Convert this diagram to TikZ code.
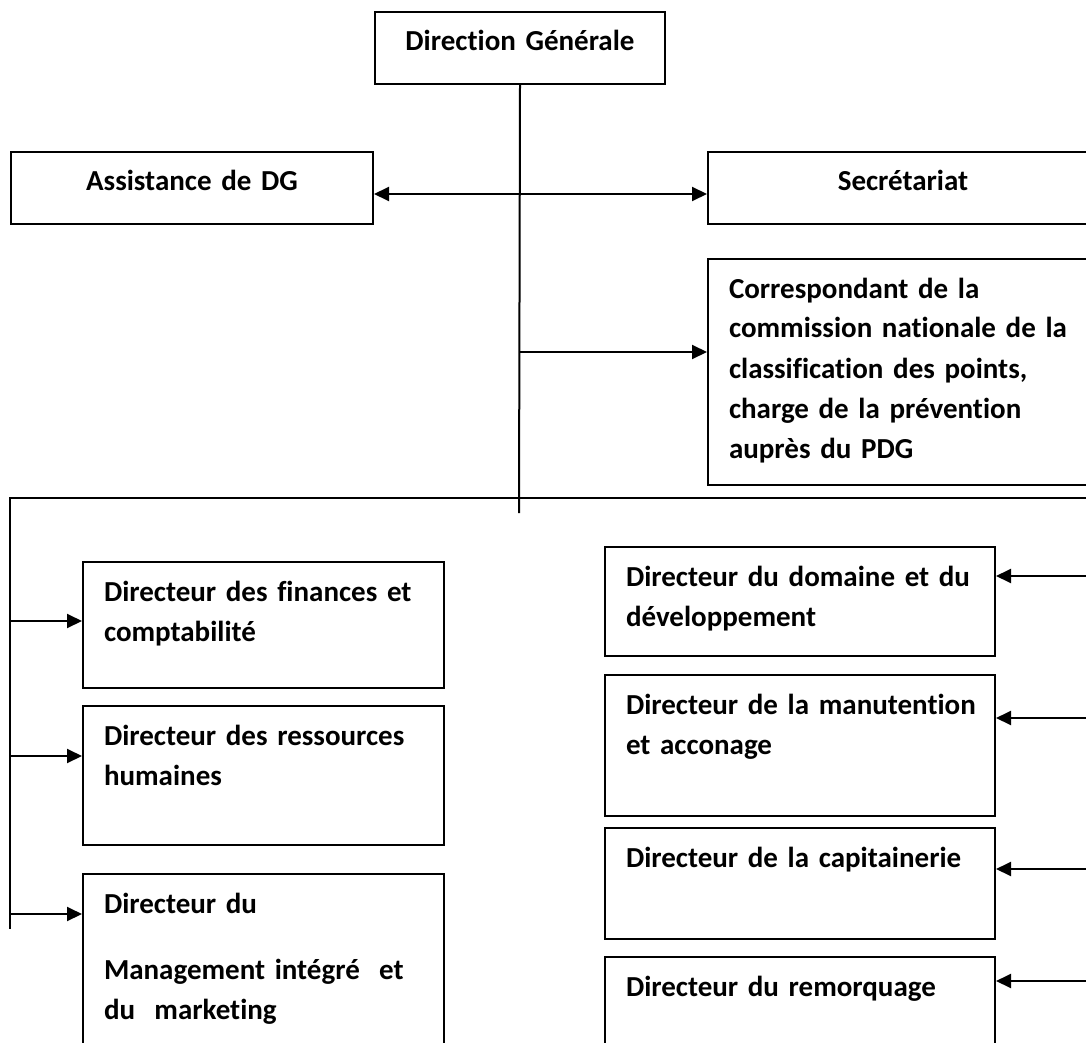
\documentclass[tikz,border=0pt]{standalone}
\usepackage{fontspec}
\setmainfont{Carlito}[Ligatures=NoCommon,WordSpace=0.7]
\usepackage{tikz}
\usetikzlibrary{arrows.meta,positioning}
\tikzstyle{boite}=[rectangle,draw=black,line width=1pt,anchor=north west,inner xsep=10.5pt,inner ysep=0pt,align=left,text height=19.5pt,font=\bfseries\fontsize{14.5}{20}\selectfont]
\tikzstyle{lien}=[->,>={Triangle[length=7.5pt,width=7pt]},line width=1pt]
\tikzstyle{trait}=[line width=1pt]

\begin{document}
\begin{tikzpicture}[x=0.5pt,y=-0.5pt]

    \useasboundingbox (0,0) rectangle (1086,1043);
    \clip (0,0) rectangle (1086,1043);

    % Boîtes
    \node[boite, align=center, text width=124pt, text depth=16.5pt] (dg) at (374,11) {Direction Générale};
    \node[boite, align=center, text width=160pt, text depth=16.5pt] (assist) at (10,151) {Assistance de DG};
    \node[boite, align=center, text width=174pt, text depth=16.5pt] (secr) at (707,151) {Secrétariat};
    \node[boite, text width=174pt, text depth=93.5pt] (corr) [below=16.5pt of secr.south west, anchor=north west] {Correspondant de la\\ commission nationale de la\\ classification des points,\\ charge de la prévention\\ auprès du PDG};

    \node[boite, text width=159.5pt, text depth=43.5pt] (fin) at (82,561) {Directeur des finances et\\ comptabilité};
    \node[boite, text width=159.5pt, text depth=50pt] (rh) [below=8pt of fin.south west, anchor=north west] {Directeur des ressources\\ humaines};
    \node[boite, text width=159.5pt, text depth=75.5pt] (mgmt) [below=13.5pt of rh.south west, anchor=north west] {Directeur du\\[13pt] Management intégré~ et\\ du~ marketing};

    \node[boite, text width=174pt, text depth=35pt] (dom) at (604,546) {Directeur du domaine et du\\ développement};
    \node[boite, text width=174pt, text depth=51pt] (man) [below=8.5pt of dom.south west, anchor=north west] {\mbox{Directeur de la manutention}\\ et acconage};
    \node[boite, text width=174pt, text depth=36pt] (cap) [below=5pt of man.south west, anchor=north west] {Directeur de la capitainerie};
    \node[boite, text width=174pt, text depth=35.5pt] (rem) [below=8pt of cap.south west, anchor=north west] {Directeur du remorquage};

    % Points des lignes
    \coordinate (tronc) at (519,513);
    \coordinate (c1) at (519,352);
    \coordinate (bg) at (10,498);
    \coordinate (bd) at (1100,498);
    \coordinate (bgbas) at (10,929);
    \coordinate (g1) at (10,621);
    \coordinate (g2) at (10,756);
    \coordinate (g3) at (10,914);
    \coordinate (d1) at (1100,576);
    \coordinate (d2) at (1100,718);
    \coordinate (d3) at (1100,869);
    \coordinate (d4) at (1100,981);

    % Liaisons
    \draw [trait] (dg.south) -- (tronc);
    \draw [lien,<->] ([yshift=-3pt]assist.east) -- ([yshift=-3pt]secr.west);
    \draw [lien] (c1) -- (c1 -| corr.west);
    \draw [trait] (bd) -- (bg) -- (bgbas);
    \draw [lien] (g1) -- (g1 -| fin.west);
    \draw [lien] (g2) -- (g2 -| rh.west);
    \draw [lien] (g3) -- (g3 -| mgmt.west);
    \draw [lien] (d1) -- (d1 -| dom.east);
    \draw [lien] (d2) -- (d2 -| man.east);
    \draw [lien] (d3) -- (d3 -| cap.east);
    \draw [lien] (d4) -- (d4 -| rem.east);

\end{tikzpicture}
\end{document}
